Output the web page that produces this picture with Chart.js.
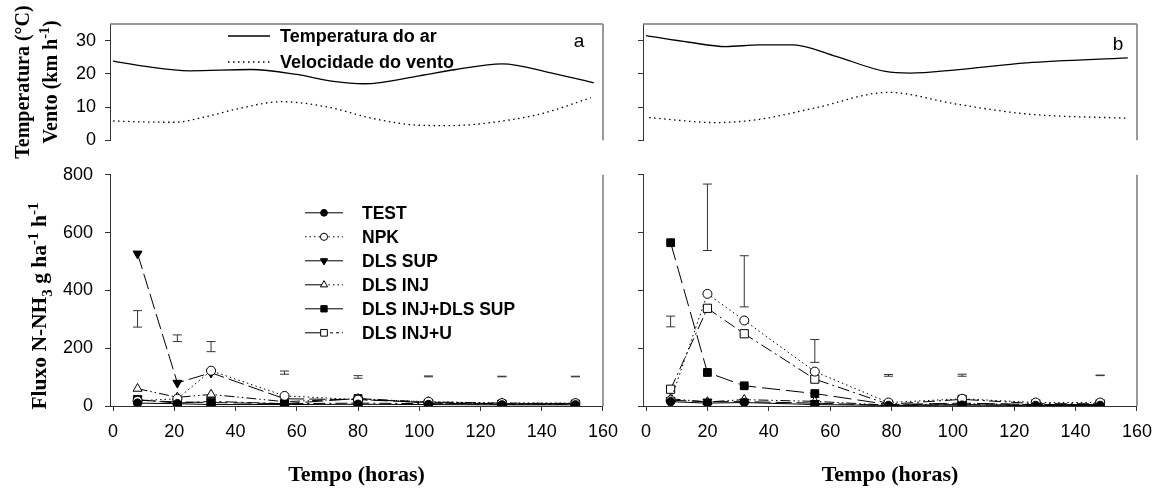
<!DOCTYPE html>
<html>
<head>
<meta charset="utf-8">
<script src="https://cdn.jsdelivr.net/npm/chart.js@4.4.0/dist/chart.umd.min.js"></script>
<style>
  body { margin: 0; background: #fff; width: 1158px; height: 490px; position: relative; overflow: hidden; }
  canvas { position: absolute; }
  .ytit { position: absolute; font: bold 20px "Liberation Serif", "Times New Roman", serif; white-space: nowrap;
          transform: translate(-50%, -50%) rotate(-90deg); color: #000; line-height: 1; }
  .ytit sup, .ytit sub { font-size: 0.7em; line-height: 0; }
</style>
</head>
<body>
<!-- o Chart.js reserva ~20px abaixo e ~8px acima/direita para os rotulos; as telas compensam isso -->
<canvas id="topoEsq" width="620" height="160" style="left:0;top:0"></canvas>
<canvas id="topoDir" width="625" height="160" style="left:533px;top:0"></canvas>
<canvas id="fluxoEsq" width="628" height="338" style="left:0;top:152px"></canvas>
<canvas id="fluxoDir" width="629" height="338" style="left:533px;top:152px"></canvas>

<div class="ytit" style="left:22px;top:82px">Temperatura (°C)</div>
<div class="ytit" style="left:50px;top:82px">Vento (km h<sup>-1</sup>)</div>
<div class="ytit" style="left:40px;top:306px;font-size:21.5px">Fluxo N-NH<sub>3</sub> g ha<sup>-1</sup> h<sup>-1</sup></div>

<script>
// ---- dados do clima (curvas suavizadas)
const tempAr_a_x = [0, 10, 25, 45, 60, 72, 82, 100, 112, 127, 143, 157];
const tempAr_a_y = [23.8, 22.3, 20.9, 21.3, 19.8, 17.7, 17, 19.4, 21.3, 23, 20.3, 17.3];
const vento_a_x = [0, 10, 20, 30, 40, 55, 70, 85, 100, 110, 125, 140, 156];
const vento_a_y = [5.8, 5.5, 5.4, 7, 9.3, 11.6, 10, 6.5, 4.5, 4.4, 5.5, 8, 12.8];

const tempAr_b_x = [0, 14, 26, 37, 48, 61, 78, 86, 101, 124, 157];
const tempAr_b_y = [31.5, 29.5, 28.2, 28.7, 28.7, 25.5, 20.7, 20.2, 21.2, 23.3, 24.8];
const vento_b_x = [1, 23, 37, 55, 79, 101, 124, 157];
const vento_b_y = [6.8, 5.3, 6.3, 9.7, 14.4, 10.9, 7.9, 6.6];

// ---- fluxo de amonia
const series = ["TEST", "NPK", "DLS SUP", "DLS INJ", "DLS INJ+DLS SUP", "DLS INJ+U"];

const tempoEsq = [8, 21, 32, 56, 80, 103, 127, 151];
const fluxoEsq = [
  [10, 8, 5, 5, 6, 5, 4, 4],
  [18, 25, 122, 35, 22, 15, 10, 10],
  [527, 80, 115, 25, 22, 12, 8, 8],
  [60, 30, 40, 15, 25, 14, 10, 9],
  [20, 14, 12, 8, 26, 10, 7, 7],
  [22, 10, 16, 8, 10, 8, 6, 6]
];
const erroEsq_x = [8, 21, 32, 56, 80, 103, 127, 151];
const erroEsq_lo = [273, 223, 188, 110, 96, 101, 101, 101];
const erroEsq_hi = [330, 246, 223, 121, 105, 104, 103, 103];

const tempoDir = [8, 20, 32, 55, 79, 103, 127, 148];
const fluxoDir = [
  [15, 10, 12, 5, 2, 3, 2, 2],
  [20, 388, 296, 119, 12, 25, 12, 12],
  [20, 15, 15, 10, 2, 5, 2, 2],
  [25, 14, 22, 16, 3, 8, 5, 5],
  [565, 116, 70, 43, 5, 10, 5, 5],
  [58, 338, 250, 93, 6, 23, 8, 8]
];
const erroDir_x = [8, 20, 32, 55, 79, 103, 148];
const erroDir_lo = [274, 538, 343, 151, 103, 103, 105];
const erroDir_hi = [311, 768, 520, 230, 109, 110, 107];

const xTicks = [0, 20, 40, 60, 80, 100, 120, 140, 160];
const yTicksClima = [0, 10, 20, 30];
const yTicksFluxo = [0, 200, 400, 600, 800];

// estilos de cada serie
const estilos = [
  { style: "circle", rot: 0, fill: "#000", dash: [], r: 4.2 },
  { style: "circle", rot: 0, fill: "#fff", dash: [1.5, 3], r: 4.5 },
  { style: "triangle", rot: 180, fill: "#000", dash: [16, 5], r: 5.2 },
  { style: "triangle", rot: 0, fill: "#fff", dash: [10, 3, 1.5, 3, 1.5, 3], r: 5.2 },
  { style: "rect", rot: 0, fill: "#000", dash: [18, 6], r: 5.5 },
  { style: "rect", rot: 0, fill: "#fff", dash: [12, 4, 2, 4], r: 5.8 }
];
// amostras da legenda: [esquerda, direita]
const amostras = [[[], []], [[1.5, 3], [1.5, 3]], [[], []], [[], [1.5, 3]], [[], []], [[], [3, 3]]];
const legendaClima = ["Temperatura do ar", "Velocidade do vento"];
const tracoClima = [[], [1.5, 3.5]];

const pontos = (xs, ys) => xs.map((x, i) => ({ x: x, y: ys[i] }));
const fonteTick = { family: "Liberation Sans", size: 18 };

function marca(ctx, st, x, y, r) {
  ctx.save();
  ctx.setLineDash([]);
  ctx.lineWidth = 1;
  ctx.strokeStyle = "#000";
  ctx.fillStyle = st.fill;
  ctx.beginPath();
  if (st.style === "circle") {
    ctx.arc(x, y, r, 0, Math.PI * 2);
  } else if (st.style === "rect") {
    ctx.rect(x - r * 0.72, y - r * 0.72, r * 1.44, r * 1.44);
  } else {
    const s = st.rot ? -1 : 1;
    ctx.moveTo(x, y - s * r);
    ctx.lineTo(x - r * 0.87, y + s * r / 2);
    ctx.lineTo(x + r * 0.87, y + s * r / 2);
    ctx.closePath();
  }
  ctx.fill();
  ctx.stroke();
  ctx.restore();
}

// moldura, barras de erro, letra do painel e legendas
const extras = {
  id: "extras",
  afterDatasetsDraw(chart, args, o) {
    const { ctx, chartArea: a, scales } = chart;
    ctx.save();
    ctx.strokeStyle = "#7a7a7a";
    ctx.lineWidth = 1.5;
    ctx.beginPath();
    if (o.topo) { ctx.moveTo(a.left, a.top); ctx.lineTo(a.right, a.top); }
    ctx.moveTo(a.right, a.top);
    ctx.lineTo(a.right, a.bottom);
    ctx.stroke();

    if (o.erroX) {
      ctx.strokeStyle = "#333";
      ctx.lineWidth = 1;
      o.erroX.forEach((v, i) => {
        const px = scales.x.getPixelForValue(v);
        const y1 = scales.y.getPixelForValue(o.erroLo[i]);
        const y2 = scales.y.getPixelForValue(o.erroHi[i]);
        ctx.beginPath();
        ctx.moveTo(px, y1); ctx.lineTo(px, y2);
        ctx.moveTo(px - 4.5, y1); ctx.lineTo(px + 4.5, y1);
        ctx.moveTo(px - 4.5, y2); ctx.lineTo(px + 4.5, y2);
        ctx.stroke();
      });
    }

    ctx.fillStyle = "#000";
    ctx.strokeStyle = "#000";
    if (o.letra) {
      ctx.font = '19px "Liberation Sans"';
      ctx.textAlign = "center";
      ctx.textBaseline = "middle";
      ctx.fillText(o.letra, a.right + o.letraDx, a.top + o.letraDy);
    }

    if (o.legClima) {
      ctx.font = 'bold 18px "Liberation Sans"';
      ctx.textAlign = "left";
      ctx.textBaseline = "middle";
      legendaClima.forEach((txt, i) => {
        const y = a.top + 12 + i * 26;
        ctx.lineWidth = 1.3;
        ctx.setLineDash(tracoClima[i]);
        ctx.beginPath();
        ctx.moveTo(a.left + 118, y); ctx.lineTo(a.left + 160, y);
        ctx.stroke();
        ctx.setLineDash([]);
        ctx.fillText(txt, a.left + 170, y + 1);
      });
    }

    if (o.legFluxo) {
      ctx.font = 'bold 17.5px "Liberation Sans"';
      ctx.textAlign = "left";
      ctx.textBaseline = "middle";
      series.forEach((nome, i) => {
        const y = a.top + 38 + i * 24;
        const cx = a.left + 214;
        ctx.lineWidth = 1;
        ctx.setLineDash(amostras[i][0]);
        ctx.beginPath(); ctx.moveTo(cx - 19, y); ctx.lineTo(cx, y); ctx.stroke();
        ctx.setLineDash(amostras[i][1]);
        ctx.beginPath(); ctx.moveTo(cx, y); ctx.lineTo(cx + 19, y); ctx.stroke();
        marca(ctx, estilos[i], cx, y, estilos[i].r * 0.8);
        ctx.fillText(nome, a.left + 252, y + 1);
      });
    }
    ctx.restore();
  }
};

function eixoX(mostra) {
  return {
    type: "linear", min: -1, max: 160, display: mostra,
    afterBuildTicks: s => { s.ticks = xTicks.map(v => ({ value: v })); },
    afterFit: s => { if (mostra) s.height = 84; },
    border: { display: true, color: "#333", width: 1 },
    grid: { drawOnChartArea: false, drawTicks: true, tickLength: 5, color: "#333" },
    ticks: { font: fonteTick, color: "#000", padding: 10, maxRotation: 0 },
    title: {
      display: mostra, text: "Tempo (horas)", color: "#000",
      font: { family: "Liberation Serif", size: 22, weight: "bold" }, padding: { top: 0, bottom: 1 }
    }
  };
}

function eixoY(max, ticks, rotulos, pad) {
  return {
    type: "linear", min: 0, max: max,
    afterBuildTicks: s => { s.ticks = ticks.map(v => ({ value: v })); },
    afterFit: s => { s.width = 110; },
    border: { display: true, color: "#333", width: 1 },
    grid: { drawOnChartArea: false, drawTicks: true, tickLength: 5, color: "#333" },
    ticks: { font: fonteTick, color: "#000", padding: pad, callback: v => rotulos ? v : "" }
  };
}

function clima(id, tx, ty, vx, vy, rotulos, letra, dx, dy, leg, padDir) {
  new Chart(document.getElementById(id), {
    type: "line",
    data: {
      datasets: [
        { label: "Temperatura do ar", data: pontos(tx, ty), borderColor: "#000", borderWidth: 1.3,
          pointRadius: 0, cubicInterpolationMode: "monotone" },
        { label: "Velocidade do vento", data: pontos(vx, vy), borderColor: "#000", borderWidth: 1.3,
          borderDash: [1.5, 3.5], pointRadius: 0, cubicInterpolationMode: "monotone" }
      ]
    },
    options: {
      responsive: false, animation: false,
      layout: { autoPadding: false, padding: { top: 24, right: padDir, bottom: 0, left: 0 } },
      scales: { x: eixoX(false), y: eixoY(35, yTicksClima, rotulos, 9) },
      plugins: {
        legend: { display: false }, tooltip: { enabled: false },
        extras: { topo: true, letra: letra, letraDx: dx, letraDy: dy, legClima: leg }
      }
    },
    plugins: [extras]
  });
}

function fluxo(id, tempos, valores, ex, elo, ehi, rotulos, leg, padDir) {
  new Chart(document.getElementById(id), {
    type: "line",
    data: {
      datasets: series.map((nome, i) => ({
        label: nome,
        data: pontos(tempos, valores[i]),
        borderColor: "#000", borderWidth: 1, borderDash: estilos[i].dash,
        pointStyle: estilos[i].style, pointRotation: estilos[i].rot, pointRadius: estilos[i].r,
        pointBackgroundColor: estilos[i].fill, pointBorderColor: "#000", pointBorderWidth: 1,
        tension: 0
      }))
    },
    options: {
      responsive: false, animation: false,
      layout: { autoPadding: false, padding: { top: 15, right: padDir, bottom: 0, left: 0 } },
      scales: { x: eixoX(true), y: eixoY(800, yTicksFluxo, rotulos, 12) },
      plugins: {
        legend: { display: false }, tooltip: { enabled: false },
        extras: { erroX: ex, erroLo: elo, erroHi: ehi, legFluxo: leg }
      }
    },
    plugins: [extras]
  });
}

clima("topoEsq", tempAr_a_x, tempAr_a_y, vento_a_x, vento_a_y, true, "a", -24, 18, true, 17);
clima("topoDir", tempAr_b_x, tempAr_b_y, vento_b_x, vento_b_y, false, "b", -19, 21, false, 21);
fluxo("fluxoEsq", tempoEsq, fluxoEsq, erroEsq_x, erroEsq_lo, erroEsq_hi, true, true, 17);
fluxo("fluxoDir", tempoDir, fluxoDir, erroDir_x, erroDir_lo, erroDir_hi, false, false, 21);
</script>
</body>
</html>
